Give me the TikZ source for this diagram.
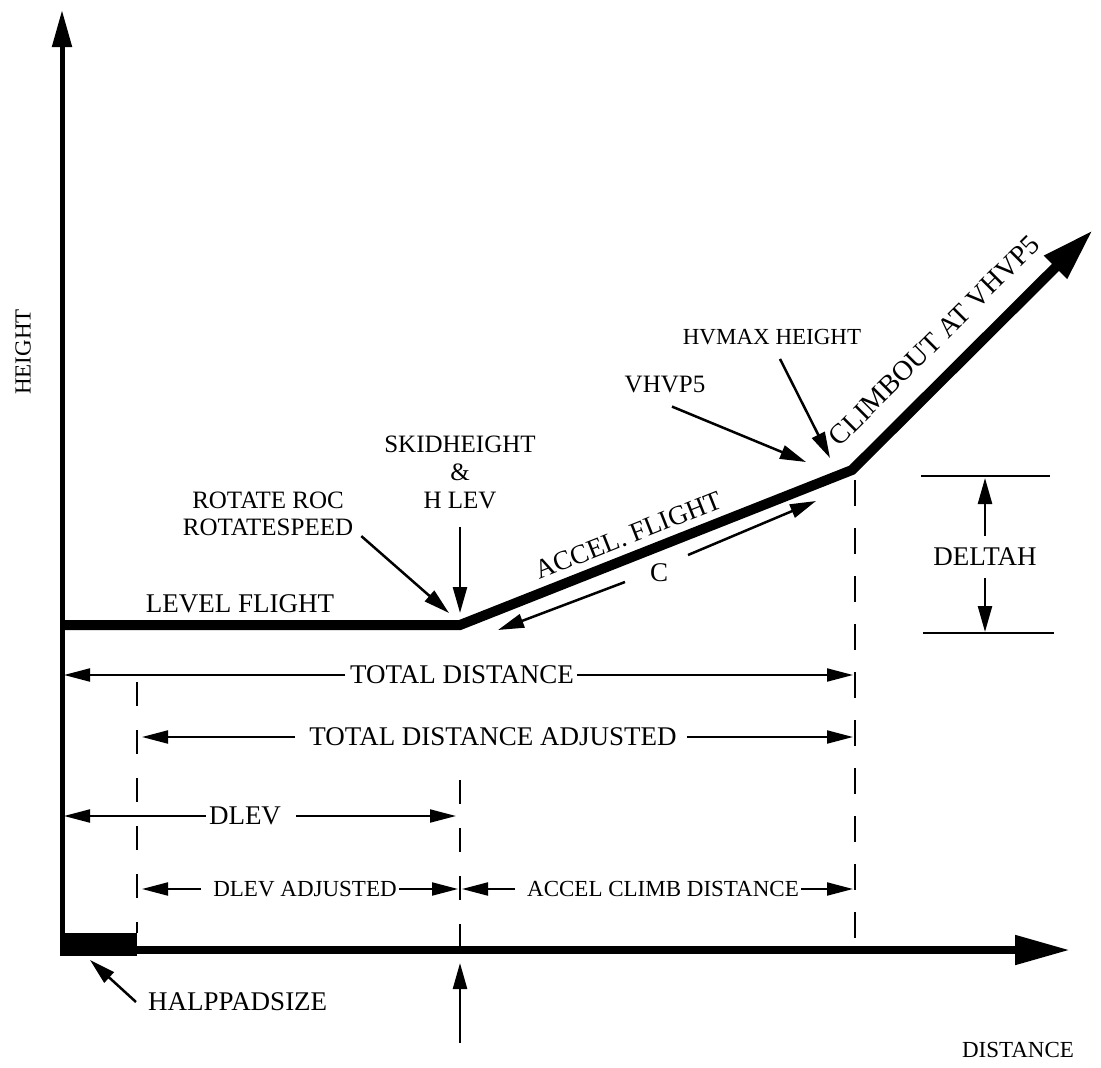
\documentclass[tikz,border=0pt]{standalone}
\usepackage{fontspec}
\setmainfont{Liberation Serif}
\usetikzlibrary{arrows.meta}
\begin{document}
\begin{tikzpicture}[x=1pt,y=-1pt,
  lbl/.style={font=\fontsize{27}{30}\selectfont, inner sep=0pt},
  mid/.style={font=\fontsize{25}{26}\selectfont, inner sep=0pt},
  sml/.style={font=\fontsize{23}{26}\selectfont, inner sep=0pt},
  dimarrow/.style={line width=2pt, -{Triangle[length=26pt,width=13pt]}},
  ptr/.style={line width=2.5pt, -{Triangle[length=26pt,width=14pt]}},
  flightline/.style={line width=10pt, line join=miter},
  vdash/.style={line width=2pt, dash pattern=on 24pt off 24pt},
]
\useasboundingbox (0,0) rectangle (1101,1068);

% axes
\coordinate (yb) at (62,955);
\coordinate (ytip) at (62,10);
\coordinate (xb) at (60,950);
\coordinate (xtip) at (1070,950);
\draw[line width=5pt, -{Triangle[length=37pt,width=19pt]}] (yb) -- (ytip);
\draw[line width=8pt, -{Triangle[length=55pt,width=28pt]}] (xb) -- (xtip);
\fill (60,933) rectangle (137,956);

% flight path
\coordinate (L0) at (60,625);
\coordinate (K1) at (460,625);
\coordinate (K2) at (852,470);
\coordinate (ctip) at (1093,230);
\draw[flightline, -{Triangle[length=53pt,width=30pt]}] (L0) -- (K1) -- (K2) -- (ctip);

% dashed verticals
\draw[vdash] (137,682) -- (137,933);
\draw[vdash] (460,780) -- (460,946);
\draw[vdash, dash pattern=on 26pt off 22pt] (855,480) -- (855,946);

% path labels
\node[lbl, anchor=south] (lev) at (240,613) {LEVEL FLIGHT};
\path (K1) -- (K2) node[pos=0.45, sloped, above=12pt, lbl] (acc) {ACCEL. FLIGHT};
\path (K2) -- (ctip) node[pos=0.44, sloped, above=24pt, font=\fontsize{28}{30}\selectfont, inner sep=0pt] (clb) {CLIMBOUT AT VHVP5};

% C arrows
\node[lbl] (cc) at (659,573) {C};
\coordinate (c1a) at (625,582); \coordinate (c1b) at (498,630);
\coordinate (c2a) at (688,555); \coordinate (c2b) at (816,501);
\draw[ptr] (c1a) -- (c1b);
\draw[ptr] (c2a) -- (c2b);

% pointers
\node[mid, align=center] (rot) at (268,514) {ROTATE ROC\\[1pt]ROTATESPEED};
\coordinate (rotp) at (449,613);
\draw[ptr] ([shift={(8,0)}]rot.south east) -- (rotp);

\node[mid, align=center] (skid) at (460,472) {SKIDHEIGHT\\[2pt]\&\\[2pt]H LEV};
\coordinate (skidp) at (460,613);
\draw[ptr] ([yshift=-18pt]skid.south) -- (skidp);

\node[mid] (vh) at (665,385) {VHVP5};
\coordinate (vhp) at (806,462);
\draw[ptr] ([shift={(7,13)}]vh.south) -- (vhp);

\node[sml] (hv) at (772,337) {HVMAX HEIGHT};
\coordinate (hvp) at (830,458);
\draw[ptr] ([shift={(8,14)}]hv.south) -- (hvp);

% deltah
\coordinate (dt1) at (921,476); \coordinate (dt2) at (1050,476);
\coordinate (db1) at (923,633); \coordinate (db2) at (1054,633);
\draw[line width=2.5pt] (dt1) -- (dt2);
\draw[line width=2.5pt] (db1) -- (db2);
\node[lbl] (dh) at (985,557) {DELTAH};
\coordinate (dhu) at (985,478); \coordinate (dhd) at (985,632);
\draw[ptr] ([yshift=12pt]dh.north) -- (dhu);
\draw[ptr] ([yshift=-12pt]dh.south) -- (dhd);

% dimension rows
\node[lbl] (td) at (462,675) {TOTAL DISTANCE};
\coordinate (tdl) at (64,675); \coordinate (tdr) at (853,675);
\draw[dimarrow] ([xshift=-5pt]td.west) -- (tdl);
\draw[dimarrow] ([xshift=3pt]td.east) -- (tdr);

\node[lbl] (tda) at (493,737) {TOTAL DISTANCE ADJUSTED};
\coordinate (tdal) at (142,737); \coordinate (tdar) at (853,737);
\draw[dimarrow] ([xshift=-14pt]tda.west) -- (tdal);
\draw[dimarrow] ([xshift=10pt]tda.east) -- (tdar);

\node[lbl] (dl) at (245,816) {DLEV};
\coordinate (dll) at (64,816); \coordinate (dlr) at (456,816);
\draw[dimarrow] ([xshift=-3pt]dl.west) -- (dll);
\draw[dimarrow] ([xshift=15pt]dl.east) -- (dlr);

\node[sml] (dla) at (305,889) {DLEV ADJUSTED};
\coordinate (dlal) at (142,889); \coordinate (dlar) at (458,889);
\draw[dimarrow] ([xshift=-12pt]dla.west) -- (dlal);
\draw[dimarrow] ([xshift=2pt]dla.east) -- (dlar);

\node[sml] (acd) at (663,889) {ACCEL CLIMB DISTANCE};
\coordinate (acdl) at (462,889); \coordinate (acdr) at (853,889);
\draw[dimarrow] ([xshift=-12pt]acd.west) -- (acdl);
\draw[dimarrow] ([xshift=2pt]acd.east) -- (acdr);

% bottom labels
\node[lbl, anchor=west] (hp) at (148,1002) {HALPPADSIZE};
\coordinate (hpp) at (90,960);
\draw[ptr] ([xshift=-12pt]hp.west) -- (hpp);

\coordinate (upa) at (460,1043); \coordinate (upb) at (460,963);
\draw[ptr] (upa) -- (upb);

\node[sml] (ax) at (1018,1050) {DISTANCE};
\node[sml, rotate=90] (ay) at (23,352) {HEIGHT};
\end{tikzpicture}
\end{document}
